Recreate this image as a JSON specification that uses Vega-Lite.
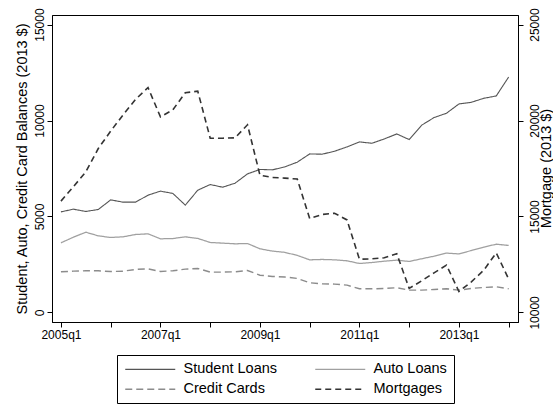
{
  "$schema": "https://vega.github.io/schema/vega-lite/v6.json",
  "width": 466,
  "height": 307,
  "autosize": {"type": "none"},
  "padding": {"left": 52, "top": 15, "right": 35, "bottom": 82},
  "background": "white",
  "config": {
    "font": "Liberation Sans",
    "view": {"stroke": "black", "strokeWidth": 1},
    "axis": {
      "domainColor": "black",
      "tickColor": "black",
      "tickSize": 5,
      "labelColor": "black",
      "labelFontSize": 12,
      "titleColor": "black",
      "titleFontSize": 14.5,
      "titleFontWeight": "normal",
      "grid": false
    }
  },
  "data": {
    "values": [
      {"t": 0, "quarter": "2005q1", "student": 5240, "auto": 3625, "credit": 2115, "mortgage": 15800},
      {"t": 1, "quarter": "2005q2", "student": 5380, "auto": 3920, "credit": 2150, "mortgage": 16550},
      {"t": 2, "quarter": "2005q3", "student": 5260, "auto": 4180, "credit": 2170, "mortgage": 17325},
      {"t": 3, "quarter": "2005q4", "student": 5365, "auto": 3990, "credit": 2170, "mortgage": 18540},
      {"t": 4, "quarter": "2006q1", "student": 5865, "auto": 3905, "credit": 2130, "mortgage": 19450},
      {"t": 5, "quarter": "2006q2", "student": 5745, "auto": 3940, "credit": 2150, "mortgage": 20300},
      {"t": 6, "quarter": "2006q3", "student": 5745, "auto": 4060, "credit": 2240, "mortgage": 21100},
      {"t": 7, "quarter": "2006q4", "student": 6110, "auto": 4095, "credit": 2270, "mortgage": 21720},
      {"t": 8, "quarter": "2007q1", "student": 6320, "auto": 3835, "credit": 2135, "mortgage": 20190},
      {"t": 9, "quarter": "2007q2", "student": 6200, "auto": 3850, "credit": 2170, "mortgage": 20560},
      {"t": 10, "quarter": "2007q3", "student": 5590, "auto": 3940, "credit": 2255, "mortgage": 21450},
      {"t": 11, "quarter": "2007q4", "student": 6370, "auto": 3855, "credit": 2290, "mortgage": 21530},
      {"t": 12, "quarter": "2008q1", "student": 6665, "auto": 3645, "credit": 2100, "mortgage": 19080},
      {"t": 13, "quarter": "2008q2", "student": 6525, "auto": 3610, "credit": 2100, "mortgage": 19080},
      {"t": 14, "quarter": "2008q3", "student": 6735, "auto": 3575, "credit": 2115, "mortgage": 19100},
      {"t": 15, "quarter": "2008q4", "student": 7220, "auto": 3590, "credit": 2185, "mortgage": 19780},
      {"t": 16, "quarter": "2009q1", "student": 7450, "auto": 3315, "credit": 1940, "mortgage": 17150},
      {"t": 17, "quarter": "2009q2", "student": 7430, "auto": 3195, "credit": 1875, "mortgage": 17030},
      {"t": 18, "quarter": "2009q3", "student": 7585, "auto": 3130, "credit": 1845, "mortgage": 17000},
      {"t": 19, "quarter": "2009q4", "student": 7830, "auto": 2970, "credit": 1770, "mortgage": 16950},
      {"t": 20, "quarter": "2010q1", "student": 8260, "auto": 2740, "credit": 1545, "mortgage": 14895},
      {"t": 21, "quarter": "2010q2", "student": 8245, "auto": 2760, "credit": 1490, "mortgage": 15105},
      {"t": 22, "quarter": "2010q3", "student": 8400, "auto": 2740, "credit": 1475, "mortgage": 15170},
      {"t": 23, "quarter": "2010q4", "student": 8625, "auto": 2690, "credit": 1420, "mortgage": 14820},
      {"t": 24, "quarter": "2011q1", "student": 8885, "auto": 2550, "credit": 1230, "mortgage": 12770},
      {"t": 25, "quarter": "2011q2", "student": 8815, "auto": 2600, "credit": 1230, "mortgage": 12790},
      {"t": 26, "quarter": "2011q3", "student": 9040, "auto": 2670, "credit": 1250, "mortgage": 12845},
      {"t": 27, "quarter": "2011q4", "student": 9300, "auto": 2725, "credit": 1285, "mortgage": 13060},
      {"t": 28, "quarter": "2012q1", "student": 9010, "auto": 2655, "credit": 1160, "mortgage": 11250},
      {"t": 29, "quarter": "2012q2", "student": 9755, "auto": 2795, "credit": 1160, "mortgage": 11645},
      {"t": 30, "quarter": "2012q3", "student": 10155, "auto": 2930, "credit": 1195, "mortgage": 12060},
      {"t": 31, "quarter": "2012q4", "student": 10380, "auto": 3090, "credit": 1230, "mortgage": 12465},
      {"t": 32, "quarter": "2013q1", "student": 10865, "auto": 3050, "credit": 1160, "mortgage": 11090},
      {"t": 33, "quarter": "2013q2", "student": 10950, "auto": 3225, "credit": 1250, "mortgage": 11595},
      {"t": 34, "quarter": "2013q3", "student": 11160, "auto": 3400, "credit": 1300, "mortgage": 12200},
      {"t": 35, "quarter": "2013q4", "student": 11280, "auto": 3555, "credit": 1335, "mortgage": 13105},
      {"t": 36, "quarter": "2014q1", "student": 12270, "auto": 3490, "credit": 1230, "mortgage": 11740}
    ]
  },
  "encoding": {
    "x": {
      "field": "t",
      "type": "quantitative",
      "scale": {"domain": [-0.72, 36.75], "nice": false, "zero": false},
      "axis": {
        "title": null,
        "values": [0, 4, 8, 12, 16, 20, 24, 28, 32, 36],
        "labelExpr": "datum.value % 8 === 0 ? (2005 + datum.value / 4) + 'q1' : ''",
        "labelPadding": 2
      }
    },
    "color": {
      "field": "key",
      "type": "nominal",
      "scale": {
        "domain": ["student", "auto", "credit", "mortgage"],
        "range": ["#555555", "#a0a0a0", "#8c8c8c", "#333333"]
      },
      "legend": {
        "title": null,
        "orient": "none",
        "direction": "horizontal",
        "legendX": 65,
        "legendY": 340,
        "columns": 2,
        "columnPadding": 34,
        "rowPadding": 5,
        "padding": 7,
        "strokeColor": "black",
        "symbolType": "M0,0H10",
        "symbolSize": 100,
        "symbolOffset": -6,
        "labelFontSize": 14.5,
        "labelColor": "black",
        "labelOffset": 51,
        "labelExpr": "{'student': 'Student Loans', 'auto': 'Auto Loans', 'credit': 'Credit Cards', 'mortgage': 'Mortgages'}[datum.label]"
      }
    },
    "strokeDash": {
      "field": "key",
      "type": "nominal",
      "scale": {
        "domain": ["student", "auto", "credit", "mortgage"],
        "range": [[1, 0], [1, 0], [7, 4], [6, 4]]
      },
      "legend": null
    },
    "strokeWidth": {
      "field": "key",
      "type": "nominal",
      "scale": {
        "domain": ["student", "auto", "credit", "mortgage"],
        "range": [1.1, 1.6, 1.4, 1.8]
      },
      "legend": null
    }
  },
  "layer": [
    {
      "transform": [{"fold": ["student", "auto", "credit"], "as": ["key", "value"]}],
      "mark": {"type": "line"},
      "encoding": {
        "y": {
          "field": "value",
          "type": "quantitative",
          "scale": {"domain": [-500, 15500], "nice": false, "zero": false},
          "axis": {
            "orient": "left",
            "title": "Student, Auto, Credit Card Balances (2013 $)",
            "values": [0, 5000, 10000, 15000],
            "format": "d",
            "labelAngle": -90,
            "labelAlign": "center",
            "labelBaseline": "bottom",
            "labelPadding": 1,
            "titlePadding": 4
          }
        }
      }
    },
    {
      "transform": [{"fold": ["mortgage"], "as": ["key", "value"]}],
      "mark": {"type": "line"},
      "encoding": {
        "y": {
          "field": "value",
          "type": "quantitative",
          "scale": {"domain": [9500, 25500], "nice": false, "zero": false},
          "axis": {
            "orient": "right",
            "title": "Mortgage (2013 $)",
            "titleAngle": -90,
            "titleAlign": "center",
            "titleBaseline": "alphabetic",
            "titleX": 32,
            "titleY": 153,
            "values": [10000, 15000, 20000, 25000],
            "format": "d",
            "labelAngle": -90,
            "labelAlign": "center",
            "labelBaseline": "top",
            "labelPadding": 6
          }
        }
      }
    }
  ],
  "resolve": {"scale": {"y": "independent"}, "axis": {"y": "independent"}}
}
